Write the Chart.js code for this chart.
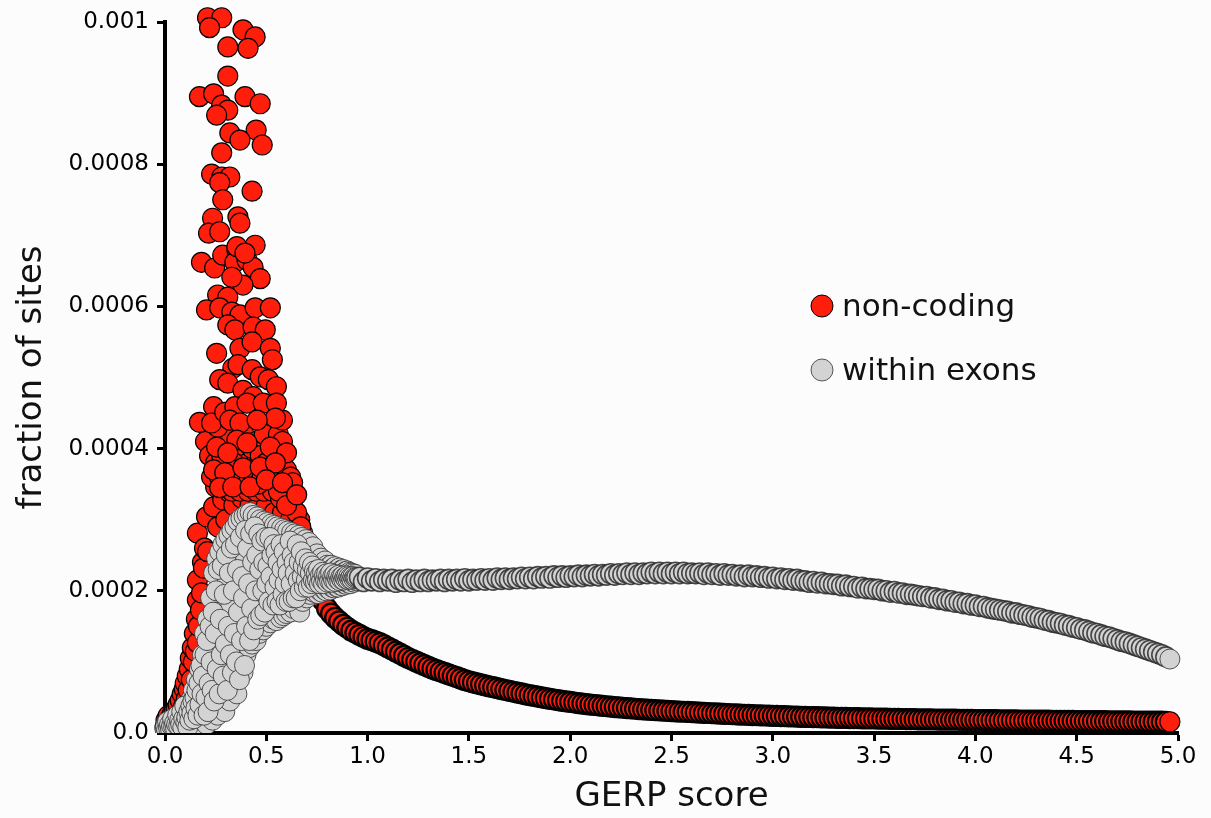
<!DOCTYPE html>
<html>
<head>
<meta charset="utf-8">
<script src="https://cdn.jsdelivr.net/npm/chart.js@4.4.1/dist/chart.umd.min.js"></script>
<style>
html,body{margin:0;padding:0;background:#fcfcfc;}
#wrap{position:relative;width:1211px;height:818px;}
</style>
</head>
<body>
<div id="wrap"><canvas id="c"></canvas></div>
<script>
// ---------- data ----------
const seriesNames = ["non-coding", "within exons"];
const xTickLabels = ["0.0","0.5","1.0","1.5","2.0","2.5","3.0","3.5","4.0","4.5","5.0"];
const yTickLabels = ["0.0","0.0002","0.0004","0.0006","0.0008","0.001"];

// non-coding: scattered cloud at low GERP score, [score, fraction]
const redCloud = [
[0.000,0.000008],[0.005,0.000018],[0.010,0.000012],[0.015,0.000024],[0.020,0.000010],[0.025,0.000020],[0.030,0.000014],[0.035,0.000026],[0.040,0.000018],[0.045,0.000030],
[0.050,0.000012],[0.055,0.000034],[0.060,0.000022],[0.065,0.000040],[0.070,0.000018],[0.075,0.000046],[0.080,0.000028],[0.085,0.000055],[0.090,0.000036],[0.095,0.000062],
[0.100,0.000070],[0.105,0.000048],[0.110,0.000080],[0.115,0.000060],[0.120,0.000090],[0.125,0.000105],[0.130,0.000075],[0.135,0.000120],[0.140,0.000100],[0.145,0.000140],
[0.150,0.000115],[0.155,0.000160],[0.160,0.000127],[0.160,0.000187],[0.160,0.000215],[0.160,0.000281],[0.165,0.000150],[0.175,0.000173],[0.180,0.000197],[0.185,0.000240],
[0.190,0.000232],[0.195,0.000260],[0.205,0.000304],[0.210,0.000255],[0.240,0.000318],[0.250,0.000346],[0.260,0.000290],[0.285,0.000328],[0.320,0.000338],
[0.30,0.00030],[0.34,0.00032],[0.36,0.00028],[0.38,0.00033],[0.40,0.00029],[0.42,0.00032],[0.44,0.00028],[0.46,0.00033],[0.48,0.00027],[0.50,0.00032],
[0.52,0.00028],[0.54,0.00031],[0.56,0.00029],[0.58,0.00031],[0.60,0.00028],[0.62,0.00030],[0.64,0.00027],[0.66,0.00028],[0.665,0.00030],[0.68,0.000281],
[0.70,0.000262],[0.72,0.000255],[0.74,0.000245],
[0.20,0.00041],[0.22,0.00039],[0.23,0.00036],[0.25,0.00038],[0.27,0.00036],[0.29,0.00037],[0.31,0.00035],[0.33,0.00034],[0.35,0.00036],[0.37,0.00034],
[0.39,0.00035],[0.41,0.00034],[0.43,0.00035],[0.45,0.00034],[0.47,0.00035],[0.49,0.00034],[0.51,0.00035],[0.53,0.00034],[0.55,0.00035],[0.57,0.00033],
[0.59,0.00034],[0.61,0.00033],[0.63,0.00032],[0.65,0.00031],[0.67,0.00029],[0.69,0.00027],
[0.33,0.00042],[0.35,0.00040],[0.37,0.00039],[0.39,0.00042],[0.41,0.00038],[0.43,0.00040],[0.45,0.00041],[0.47,0.00039],[0.49,0.00042],[0.36,0.00037],
[0.38,0.00036],[0.40,0.00035],[0.42,0.00037],[0.44,0.00036],[0.46,0.00035],[0.48,0.00036],[0.50,0.00038],[0.52,0.00037],[0.54,0.00036],[0.56,0.00034],
[0.34,0.00038],[0.32,0.00036],[0.30,0.00038],[0.28,0.00039],[0.29,0.00042],[0.26,0.00043],[0.56,0.00042],[0.58,0.00041],[0.60,0.00037],[0.62,0.00036],
[0.58,0.00044],[0.60,0.00032],
[0.18,0.000662],[0.245,0.000654],[0.285,0.000672],[0.355,0.000679],[0.345,0.000662],[0.405,0.000665],[0.435,0.000655],[0.47,0.000639],[0.385,0.00063],[0.33,0.000641],
[0.26,0.000616],[0.31,0.000613],[0.205,0.000595],[0.27,0.000598],[0.33,0.000592],[0.37,0.000588],[0.445,0.000598],[0.52,0.000598],[0.31,0.000574],[0.345,0.000567],
[0.435,0.000571],[0.495,0.000567],[0.255,0.000534],[0.37,0.000541],[0.43,0.00055],[0.52,0.000541],[0.53,0.000525],[0.335,0.000513],[0.36,0.000518],[0.43,0.000511],
[0.27,0.000497],[0.31,0.000492],[0.47,0.000501],[0.51,0.000497],[0.55,0.000487],[0.385,0.000482],[0.435,0.000473],[0.24,0.000459],[0.17,0.000437],[0.23,0.000436],
[0.295,0.000451],[0.345,0.000459],[0.405,0.000464],[0.485,0.000464],[0.55,0.000464],[0.545,0.000443],[0.32,0.00044],[0.37,0.000436],[0.455,0.00044],[0.255,0.000402],
[0.355,0.000412],[0.405,0.000408],[0.52,0.000402],[0.6,0.000394],[0.31,0.000394],[0.24,0.00037],[0.295,0.000366],[0.385,0.000373],[0.47,0.000374],[0.545,0.00038],
[0.63,0.000352],[0.27,0.000345],[0.335,0.000346],[0.42,0.000346],[0.5,0.000356],[0.58,0.000352],[0.65,0.000335],
[0.21,0.001006],[0.28,0.001006],[0.22,0.000992],[0.385,0.000989],[0.445,0.000979],[0.31,0.000965],[0.41,0.000963],[0.31,0.000924],[0.17,0.000895],[0.24,0.000899],
[0.395,0.000895],[0.47,0.000885],[0.28,0.000883],[0.31,0.000876],[0.255,0.000869],[0.32,0.000844],[0.45,0.000848],[0.37,0.000834],[0.48,0.000827],[0.28,0.000816],
[0.23,0.000786],[0.28,0.000782],[0.32,0.000782],[0.43,0.000762],[0.27,0.000774],[0.285,0.00075],[0.235,0.000724],[0.36,0.000726],[0.215,0.000703],[0.27,0.000705],
[0.37,0.000717],[0.445,0.000686],[0.355,0.000684],[0.395,0.000675]
];

// within exons: scattered cloud at low GERP score (two interleaved passes over the score axis)
const grayCloudScore = [
0.000,0.005,0.010,0.015,0.020,0.025,0.030,0.035,0.040,0.045,
0.050,0.055,0.060,0.065,0.070,0.075,0.080,0.085,0.090,0.095,
0.100,0.105,0.110,0.115,0.120,0.125,0.130,0.135,0.140,0.145,
0.150,0.155,0.160,0.165,0.170,0.175,0.180,0.185,0.190,0.195,
0.200,0.205,0.210,0.215,0.220,0.225,0.230,0.235,0.240,0.245,
0.250,0.255,0.260,0.265,0.270,0.275,0.280,0.285,0.290,0.295,
0.300,0.305,0.310,0.315,0.320,0.325,0.330,0.335,0.340,0.345,
0.350,0.355,0.360,0.365,0.370,0.375,0.380,0.385,0.390,0.395,
0.400,0.405,0.410,0.415,0.420,0.425,0.430,0.435,0.440,0.445,
0.450,0.455,0.460,0.465,0.470,0.475,0.480,0.485,0.490,0.495,
0.500,0.505,0.510,0.515,0.520,0.525,0.530,0.535,0.540,0.545,
0.550,0.555,0.560,0.565,0.570,0.575,0.580,0.585,0.590,0.595,
0.600,0.605,0.610,0.615,0.620,0.625,0.630,0.635,0.640,0.645,
0.650,0.655,0.660,0.665,0.670,0.675,0.680,0.685,0.690,0.695,
0.700,0.705,0.710,0.715,0.720,0.725,0.730,0.735,0.740,0.745,
0.750,0.755,0.760,0.765,0.770,0.775,0.780,0.785,0.790,0.795,
0.800,0.805,0.810,0.815,0.820,0.825,0.830,0.835,0.840,0.845,
0.850,0.855,0.860,0.865,0.870,0.875,0.880,0.885,0.890,0.895,
0.900,0.905,0.910,0.915,0.920,0.925,0.930,0.935,0.940,0.945,
0.0025,0.0075,0.0125,0.0175,0.0225,0.0275,0.0325,0.0375,0.0425,0.0475,
0.0525,0.0575,0.0625,0.0675,0.0725,0.0775,0.0825,0.0875,0.0925,0.0975,
0.1025,0.1075,0.1125,0.1175,0.1225,0.1275,0.1325,0.1375,0.1425,0.1475,
0.1525,0.1575,0.1625,0.1675,0.1725,0.1775,0.1825,0.1875,0.1925,0.1975,
0.2025,0.2075,0.2125,0.2175,0.2225,0.2275,0.2325,0.2375,0.2425,0.2475,
0.2525,0.2575,0.2625,0.2675,0.2725,0.2775,0.2825,0.2875,0.2925,0.2975,
0.3025,0.3075,0.3125,0.3175,0.3225,0.3275,0.3325,0.3375,0.3425,0.3475,
0.3525,0.3575,0.3625,0.3675,0.3725,0.3775,0.3825,0.3875,0.3925,0.3975,
0.4025,0.4075,0.4125,0.4175,0.4225,0.4275,0.4325,0.4375,0.4425,0.4475,
0.4525,0.4575,0.4625,0.4675,0.4725,0.4775,0.4825,0.4875,0.4925,0.4975,
0.5025,0.5075,0.5125,0.5175,0.5225,0.5275,0.5325,0.5375,0.5425,0.5475,
0.5525,0.5575,0.5625,0.5675,0.5725,0.5775,0.5825,0.5875,0.5925,0.5975,
0.6025,0.6075,0.6125,0.6175,0.6225,0.6275,0.6325,0.6375,0.6425,0.6475,
0.6525,0.6575,0.6625,0.6675,0.6725,0.6775,0.6825,0.6875,0.6925,0.6975,
0.7025,0.7075,0.7125,0.7175,0.7225,0.7275,0.7325,0.7375,0.7425,0.7475,
0.7525,0.7575,0.7625,0.7675,0.7725,0.7775,0.7825,0.7875,0.7925,0.7975,
0.8025,0.8075,0.8125,0.8175,0.8225,0.8275,0.8325,0.8375,0.8425,0.8475,
0.8525,0.8575,0.8625,0.8675,0.8725,0.8775,0.8825,0.8875,0.8925,0.8975,
0.9025,0.9075,0.9125,0.9175,0.9225,0.9275,0.9325,0.9375,0.9425,0.9475
];
const grayCloudFraction = [
0.000005,0.000012,0.000003,0.000015,0.000008,0.000002,0.000014,0.000006,0.000018,0.000004,
0.000010,0.000020,0.000003,0.000015,0.000008,0.000022,0.000005,0.000017,0.000028,0.000009,
0.000002,0.000030,0.000014,0.000040,0.000006,0.000025,0.000048,0.000010,0.000060,0.000033,
0.000005,0.000075,0.000045,0.000015,0.000090,0.000060,0.000008,0.000110,0.000035,0.000140,
0.000075,0.000012,0.000160,0.000100,0.000045,0.000190,0.000130,0.000018,0.000225,0.000080,
0.000170,0.000245,0.000025,0.000120,0.000255,0.000200,0.000060,0.000265,0.000150,0.000030,
0.000272,0.000210,0.000095,0.000278,0.000045,0.000180,0.000285,0.000240,0.000070,0.000290,
0.000130,0.000055,0.000298,0.000200,0.000100,0.000302,0.000160,0.000085,0.000305,0.000250,
0.000110,0.000308,0.000190,0.000120,0.000310,0.000230,0.000125,0.000306,0.000170,0.000275,
0.000130,0.000304,0.000210,0.000140,0.000300,0.000185,0.000260,0.000145,0.000298,0.000220,
0.000150,0.000296,0.000175,0.000250,0.000155,0.000294,0.000200,0.000160,0.000292,0.000230,
0.000158,0.000290,0.000190,0.000270,0.000162,0.000288,0.000215,0.000165,0.000286,0.000245,
0.000168,0.000284,0.000200,0.000260,0.000170,0.000282,0.000230,0.000175,0.000280,0.000210,
0.000250,0.000178,0.000278,0.000170,0.000235,0.000275,0.000185,0.000262,0.000195,0.000272,
0.000190,0.000250,0.000268,0.000195,0.000255,0.000200,0.000262,0.000198,0.000245,0.000205,
0.000252,0.000196,0.000240,0.000200,0.000246,0.000198,0.000238,0.000202,0.000242,0.000200,
0.000236,0.000203,0.000234,0.000201,0.000236,0.000205,0.000232,0.000204,0.000234,0.000206,
0.000230,0.000205,0.000232,0.000208,0.000229,0.000207,0.000230,0.000210,0.000227,0.000209,
0.000228,0.000211,0.000226,0.000210,0.000225,0.000213,0.000224,0.000212,0.000223,0.000214,
0.000009,0.000004,0.000016,0.000007,0.000012,0.000005,0.000010,0.000020,0.000009,0.000014,
0.000006,0.000012,0.000025,0.000010,0.000018,0.000012,0.000030,0.000008,0.000020,0.000038,
0.000015,0.000022,0.000008,0.000030,0.000018,0.000038,0.000028,0.000045,0.000020,0.000050,
0.000035,0.000060,0.000025,0.000070,0.000040,0.000095,0.000055,0.000080,0.000025,0.000110,
0.000050,0.000130,0.000030,0.000070,0.000150,0.000100,0.000060,0.000170,0.000045,0.000140,
0.000200,0.000090,0.000230,0.000055,0.000160,0.000110,0.000235,0.000080,0.000195,0.000125,
0.000250,0.000060,0.000150,0.000225,0.000110,0.000260,0.000085,0.000200,0.000140,0.000265,
0.000100,0.000230,0.000170,0.000075,0.000275,0.000130,0.000220,0.000190,0.000095,0.000285,
0.000150,0.000260,0.000210,0.000130,0.000280,0.000175,0.000240,0.000145,0.000290,0.000200,
0.000250,0.000160,0.000280,0.000230,0.000165,0.000270,0.000200,0.000240,0.000170,0.000275,
0.000210,0.000235,0.000185,0.000275,0.000220,0.000250,0.000180,0.000265,0.000205,0.000255,
0.000185,0.000240,0.000215,0.000180,0.000265,0.000230,0.000195,0.000255,0.000210,0.000185,
0.000240,0.000225,0.000185,0.000270,0.000210,0.000250,0.000190,0.000240,0.000225,0.000190,
0.000265,0.000215,0.000240,0.000200,0.000255,0.000220,0.000235,0.000205,0.000245,0.000215,
0.000230,0.000205,0.000240,0.000225,0.000210,0.000235,0.000215,0.000228,0.000212,0.000225,
0.000215,0.000230,0.000210,0.000222,0.000214,0.000226,0.000210,0.000222,0.000215,0.000224,
0.000212,0.000221,0.000214,0.000225,0.000212,0.000220,0.000215,0.000223,0.000213,0.000220,
0.000216,0.000222,0.000214,0.000219,0.000216,0.000221,0.000215,0.000219,0.000217,0.000221,
0.000216,0.000220,0.000217,0.000219,0.000216,0.000220,0.000217,0.000219,0.000218,0.000219
];

// smooth tails (GERP score grid) and the two series read along it
const tailScore = [
0.72,0.74,0.76,0.78,0.80,0.82,0.84,0.86,0.88,0.90,
0.92,0.94,0.96,0.98,1.00,1.02,1.04,1.06,1.08,1.10,
1.12,1.14,1.16,1.18,1.20,1.22,1.24,1.26,1.28,1.30,
1.32,1.34,1.36,1.38,1.40,1.42,1.44,1.46,1.48,1.50,
1.52,1.54,1.56,1.58,1.60,1.62,1.64,1.66,1.68,1.70,
1.72,1.74,1.76,1.78,1.80,1.82,1.84,1.86,1.88,1.90,
1.92,1.94,1.96,1.98,2.00,2.02,2.04,2.06,2.08,2.10,
2.12,2.14,2.16,2.18,2.20,2.22,2.24,2.26,2.28,2.30,
2.32,2.34,2.36,2.38,2.40,2.42,2.44,2.46,2.48,2.50,
2.52,2.54,2.56,2.58,2.60,2.62,2.64,2.66,2.68,2.70,
2.72,2.74,2.76,2.78,2.80,2.82,2.84,2.86,2.88,2.90,
2.92,2.94,2.96,2.98,3.00,3.02,3.04,3.06,3.08,3.10,
3.12,3.14,3.16,3.18,3.20,3.22,3.24,3.26,3.28,3.30,
3.32,3.34,3.36,3.38,3.40,3.42,3.44,3.46,3.48,3.50,
3.52,3.54,3.56,3.58,3.60,3.62,3.64,3.66,3.68,3.70,
3.72,3.74,3.76,3.78,3.80,3.82,3.84,3.86,3.88,3.90,
3.92,3.94,3.96,3.98,4.00,4.02,4.04,4.06,4.08,4.10,
4.12,4.14,4.16,4.18,4.20,4.22,4.24,4.26,4.28,4.30,
4.32,4.34,4.36,4.38,4.40,4.42,4.44,4.46,4.48,4.50,
4.52,4.54,4.56,4.58,4.60,4.62,4.64,4.66,4.68,4.70,
4.72,4.74,4.76,4.78,4.80,4.82,4.84,4.86,4.88,4.90,
4.92,4.94,4.96
];
const redTailFraction = [
0.000228,0.000213,0.000199,0.000186,0.000175,0.000168,0.000162,0.000157,0.000152,0.000148,
0.000144,0.000141,0.000138,0.000135,0.0001325,0.0001305,0.0001285,0.0001265,0.0001235,0.0001205,
0.0001175,0.0001145,0.0001115,0.0001085,0.0001055,0.000103,0.0001005,0.000098,0.0000955,0.000093,
0.0000905,0.0000885,0.0000865,0.0000845,0.0000825,0.0000805,0.0000785,0.0000765,0.0000745,0.0000728,
0.0000712,0.0000698,0.0000684,0.000067,0.0000657,0.0000644,0.0000631,0.0000618,0.0000605,0.0000592,
0.000058,0.0000568,0.0000556,0.0000544,0.0000533,0.0000522,0.0000511,0.00005,0.000049,0.000048,
0.0000471,0.0000462,0.0000453,0.0000445,0.0000437,0.0000429,0.0000421,0.0000414,0.0000407,0.00004,
0.0000394,0.0000388,0.0000382,0.0000376,0.000037,0.0000365,0.000036,0.0000355,0.000035,0.0000345,
0.0000341,0.0000337,0.0000333,0.0000329,0.0000325,0.0000321,0.0000317,0.0000314,0.0000311,0.0000308,
0.0000305,0.0000302,0.0000299,0.0000296,0.0000293,0.000029,0.0000287,0.0000284,0.0000281,0.0000278,
0.0000275,0.0000272,0.000027,0.0000267,0.0000264,0.0000262,0.0000259,0.0000257,0.0000254,0.0000252,
0.000025,0.0000248,0.0000246,0.0000244,0.0000242,0.000024,0.0000238,0.0000236,0.0000234,0.0000232,
0.000023,0.0000228,0.0000226,0.0000225,0.0000223,0.0000222,0.000022,0.0000219,0.0000217,0.0000216,
0.0000214,0.0000213,0.0000212,0.000021,0.0000209,0.0000208,0.0000207,0.0000206,0.0000205,0.0000204,
0.0000203,0.0000202,0.0000201,0.00002,0.0000199,0.0000198,0.0000197,0.0000196,0.0000195,0.0000194,
0.0000193,0.0000193,0.0000192,0.0000191,0.000019,0.0000189,0.0000189,0.0000188,0.0000187,0.0000187,
0.0000186,0.0000185,0.0000185,0.0000184,0.0000183,0.0000183,0.0000182,0.0000181,0.0000181,0.000018,
0.0000179,0.0000179,0.0000178,0.0000178,0.0000177,0.0000176,0.0000176,0.0000175,0.0000175,0.0000174,
0.0000174,0.0000173,0.0000173,0.0000172,0.0000172,0.0000171,0.0000171,0.000017,0.000017,0.0000169,
0.0000169,0.0000168,0.0000168,0.0000167,0.0000167,0.0000166,0.0000166,0.0000165,0.0000165,0.0000164,
0.0000164,0.0000163,0.0000163,0.0000162,0.0000162,0.0000161,0.0000161,0.000016,0.000016,0.0000159,
0.0000159,0.0000158,0.0000158
];
const grayTailFraction = [
null,null,null,null,null,null,null,null,null,null,
null,null,0.000219,0.000213,0.000218,0.000214,0.000217,0.000213,0.000216,0.000214,
0.000216,0.000212,0.000215,0.000213,0.000216,0.000212,0.000215,0.000213,0.000216,0.000213,
0.000215,0.000214,0.000216,0.000213,0.000216,0.000214,0.000216,0.000214,0.000217,0.000214,
0.000216,0.000215,0.000217,0.000215,0.000217,0.000215,0.000218,0.000216,0.000218,0.000216,
0.000218,0.000217,0.000219,0.000217,0.000219,0.000217,0.000220,0.000218,0.000220,0.000218,
0.000221,0.000219,0.000221,0.000219,0.000221,0.000220,0.000222,0.000220,0.000222,0.000221,
0.000223,0.000221,0.000223,0.000222,0.000224,0.000222,0.000224,0.000223,0.000225,0.000223,
0.000225,0.000223,0.000225,0.000224,0.000226,0.000224,0.000226,0.000224,0.000226,0.000224,
0.000226,0.000224,0.000226,0.000224,0.000225,0.000224,0.000225,0.000223,0.000225,0.000223,
0.000224,0.000222,0.000224,0.000222,0.000223,0.000221,0.000222,0.000220,0.000222,0.000220,
0.000221,0.000219,0.000220,0.000218,0.000219,0.000217,0.000218,0.000216,0.000217,0.000215,
0.000216,0.000214,0.000214,0.000212,0.000213,0.000211,0.000212,0.000210,0.000210,0.000209,
0.000209,0.000207,0.000208,0.000206,0.000206,0.000204,0.000205,0.000203,0.000203,0.000202,
0.000202,0.000200,0.000200,0.000198,0.000199,0.000197,0.000197,0.000195,0.000195,0.000194,
0.000193,0.000192,0.000192,0.000190,0.000190,0.000188,0.000188,0.000186,0.000186,0.000184,
0.000184,0.000182,0.000182,0.000180,0.000180,0.000178,0.000178,0.000176,0.000175,0.000174,
0.000173,0.000172,0.000171,0.000169,0.000169,0.000167,0.000166,0.000165,0.000163,0.000162,
0.000161,0.000159,0.000158,0.000156,0.000155,0.000154,0.000152,0.000151,0.000149,0.000148,
0.000146,0.000145,0.000143,0.000141,0.000140,0.000138,0.000136,0.000135,0.000133,0.000131,
0.000129,0.000128,0.000126,0.000124,0.000122,0.000120,0.000118,0.000116,0.000114,0.000112,
0.000110,0.000107,0.000104
];

// ---------- build datasets from the arrays ----------
const redPoints = redCloud.map(p => ({x: p[0], y: p[1]}))
  .concat(tailScore.map((s, i) => ({x: s, y: redTailFraction[i]})));
const grayPoints = grayCloudScore.map((s, i) => ({x: s, y: grayCloudFraction[i]}))
  .concat(tailScore.map((s, i) => ({x: s, y: grayTailFraction[i]})).filter(p => p.y !== null));
const nRedCloud = redCloud.length;
const nGrayCloud = grayCloudScore.length;

const FONT = "'DejaVu Sans', Verdana, sans-serif";
const RED = 'rgb(255,30,12)';
const GRAY = '#d3d3d3';

const inlineLegend = {
  id: 'inlineLegend',
  afterDraw(chart) {
    const ctx = chart.ctx;
    const items = [
      {name: seriesNames[0], fill: RED, stroke: '#000', cy: 306},
      {name: seriesNames[1], fill: GRAY, stroke: '#555', cy: 370}
    ];
    ctx.save();
    items.forEach(it => {
      ctx.beginPath();
      ctx.arc(822, it.cy, 11, 0, Math.PI * 2);
      ctx.fillStyle = it.fill;
      ctx.fill();
      ctx.lineWidth = 1;
      ctx.strokeStyle = it.stroke;
      ctx.stroke();
      ctx.fillStyle = '#111';
      ctx.font = '31px ' + FONT;
      ctx.textBaseline = 'alphabetic';
      ctx.textAlign = 'left';
      ctx.fillText(it.name, 842, it.cy + 10);
    });
    ctx.restore();
  }
};

const clipBottom = {left: false, top: false, right: false, bottom: 0};

new Chart(document.getElementById('c'), {
  type: 'scatter',
  data: {
    datasets: [
      {label: seriesNames[1], data: grayPoints, backgroundColor: GRAY,
       borderColor: c => (c.dataIndex >= nGrayCloud && c.dataIndex < grayPoints.length - 1) ? 'rgba(45,45,45,0.85)' : 'rgba(55,55,55,0.85)',
       borderWidth: c => (c.dataIndex >= nGrayCloud && c.dataIndex < grayPoints.length - 1) ? 1.6 : 1,
       pointRadius: 10, pointHoverRadius: 10, clip: clipBottom},
      {label: seriesNames[0], data: redPoints, backgroundColor: RED, borderColor: '#000',
       borderWidth: c => (c.dataIndex >= nRedCloud && c.dataIndex < redPoints.length - 1) ? 2.2 : 1.2,
       pointRadius: 10, pointHoverRadius: 10, clip: clipBottom}
    ]
  },
  options: {
    responsive: true,
    maintainAspectRatio: false,
    animation: false,
    events: [],
    layout: {padding: {top: 22, right: 33, left: 0, bottom: 0}},
    plugins: {legend: {display: false}, tooltip: {enabled: false}},
    scales: {
      x: {
        type: 'linear', min: 0, max: 5, z: 1,
        afterFit(s) { s.height = 85; },
        ticks: {stepSize: 0.5, autoSkip: false, maxRotation: 0, padding: 2, color: '#000',
                font: {family: FONT, size: 23},
                callback: (v, i) => xTickLabels[i]},
        grid: {display: true, drawOnChartArea: false, drawTicks: true, tickLength: 8, tickWidth: 3, tickColor: '#000'},
        border: {display: true, color: '#000', width: 4},
        title: {display: true, text: 'GERP score', color: '#111', font: {family: FONT, size: 34}, padding: {top: 0, bottom: 0}}
      },
      y: {
        type: 'linear', min: 0, max: 0.001, z: 1,
        afterFit(s) { s.width = 165; },
        ticks: {stepSize: 0.0002, autoSkip: false, padding: 8, color: '#000',
                font: {family: FONT, size: 23},
                callback: (v, i) => yTickLabels[i]},
        grid: {display: true, drawOnChartArea: false, drawTicks: true, tickLength: 8, tickWidth: 3, tickColor: '#000'},
        border: {display: true, color: '#000', width: 4},
        title: {display: true, text: 'fraction of sites', color: '#111', font: {family: FONT, size: 34}, padding: {top: 12, bottom: 0}}
      }
    }
  },
  plugins: [inlineLegend]
});
</script>
</body>
</html>
